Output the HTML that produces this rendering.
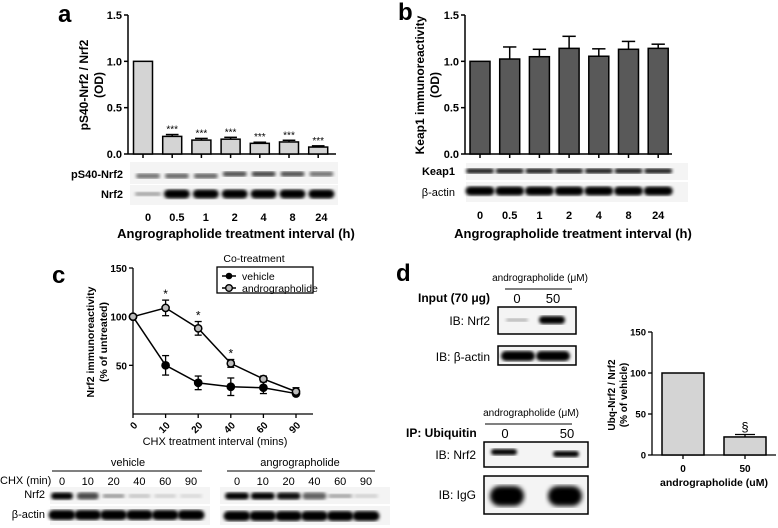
<!DOCTYPE html>
<html><head><meta charset="utf-8"><style>
html,body{margin:0;padding:0;background:#fff}
svg{display:block;font-family:"Liberation Sans",sans-serif}
</style></head><body>
<svg id="fig" width="778" height="528" viewBox="0 0 778 528" xmlns="http://www.w3.org/2000/svg" font-weight="bold">
<defs>
<filter id="blur1"><feGaussianBlur stdDeviation="1.6"/></filter>
<filter id="blur2"><feGaussianBlur stdDeviation="2.5"/></filter>
</defs>
<g id="panelA"></g>
<g id="panelB"></g>
<g id="panelC"></g>
<g id="panelD"></g>
</svg>
<script>
// Panel a data
const aCats = ["0","0.5","1","2","4","8","24"];
const aVals = [1.0,0.19,0.15,0.16,0.115,0.13,0.075];
const aErr = [0,0.02,0.018,0.02,0.012,0.018,0.013];
const aTicks = [0,0.5,1.0,1.5];
const aTickLabels = ["0.0","0.5","1.0","1.5"];
const aPs40 = [0.55,0.6,0.6,0.7,0.75,0.7,0.55];
const aNrf2 = [0.35,1,1,1,1,1,1];
// Panel b data
const bCats = ["0","0.5","1","2","4","8","24"];
const bVals = [1.0,1.025,1.05,1.14,1.055,1.13,1.14];
const bErr = [0,0.13,0.08,0.13,0.08,0.085,0.045];
const bTicks = [0,0.5,1.0,1.5];
const bTickLabels = ["0.0","0.5","1.0","1.5"];
// Panel c data
const cCats = ["0","10","20","40","60","90"];
const cVehicle = [100,50,32,28,27,21];
const cVehicleErr = [0,10,7,9,6,2];
const cAndro = [100,109,88,52,36,23];
const cAndroErr = [0,8,7,4,3,4];
const cStars = [false,true,true,true,false,false];
const cTicks = [50,100,150];
const cBlotVehicle = [1,0.7,0.4,0.2,0.15,0.12];
const cBlotAndro = [1,1,0.95,0.6,0.35,0.15];
// Panel d data
const dCats = ["0","50"];
const dVals = [100,22];
const dErr = [0,3];
const dTicks = [0,50,100,150];

const NS="http://www.w3.org/2000/svg";
function el(parent,tag,attrs,txt){const e=document.createElementNS(NS,tag);for(const k in attrs)e.setAttribute(k,attrs[k]);if(txt!==undefined)e.textContent=txt;parent.appendChild(e);return e;}

function barPanel(g,opt){
  const {x0,x1,yTop,yBot,vmax,cats,vals,err,ticks,tickLabels,fill,cx0,step,bw,fs}=opt;
  const y=v=>yBot-(v/vmax)*(yBot-yTop);
  const x=i=>cx0+i*step;
  const ax=el(g,'line',{x1:x0,y1:yTop,x2:x0,y2:yBot,stroke:'#000','stroke-width':1.5});
  
  
  const xa=el(g,'line',{x1:x0,y1:yBot,x2:x1,y2:yBot,stroke:'#000','stroke-width':1.5});
  
  
  ticks.forEach((t,i)=>{
    el(g,'line',{x1:x0-4,y1:y(t),x2:x0,y2:y(t),stroke:'#000','stroke-width':1.5});
    const tl=el(g,'text',{x:x0-6,y:y(t)+4,'text-anchor':'end','font-size':fs||11},tickLabels[i]);
    
    
  });
  cats.forEach((c,i)=>{
    el(g,'line',{x1:x(i),y1:yBot,x2:x(i),y2:yBot+4,stroke:'#000','stroke-width':1.5});
    const r=el(g,'rect',{x:x(i)-bw/2,y:y(vals[i]),width:bw,height:yBot-y(vals[i]),fill:fill,stroke:'#000','stroke-width':1.5});
    
    
    if(err[i]>0){
      el(g,'line',{x1:x(i),y1:y(vals[i]),x2:x(i),y2:y(vals[i]+err[i]),stroke:'#000','stroke-width':1.5});
      el(g,'line',{x1:x(i)-bw/3,y1:y(vals[i]+err[i]),x2:x(i)+bw/3,y2:y(vals[i]+err[i]),stroke:'#000','stroke-width':1.5});
    }
  });
  return {x,y};
}
function band(g,cx,cy,w,h,intensity,blurId){
  const b=el(g,'rect',{x:cx-w/2,y:cy-h/2,width:w,height:h,rx:h/2,fill:'#000','fill-opacity':intensity,filter:'url(#'+(blurId||'blur1')+')'});
  
  
}
function blotBg(g,x,y,w,h,name,stroke){
  const r=el(g,'rect',{x,y,width:w,height:h,fill:'#f4f4f4',stroke:stroke?'#000':'none','stroke-width':1.5});
  
  
}
function label(g,x,y,t,opts,name){
  const e=el(g,'text',Object.assign({x,y},opts||{}),t);
  
  
  return e;
}

// ---- Panel A
(function(){
  const g=document.getElementById('panelA');
  label(g,58,22,'a',{'font-size':24},'panel-label-a');
  const s=barPanel(g,{x0:128,x1:336,yTop:15,yBot:154,vmax:1.5,cats:aCats,vals:aVals,err:aErr,ticks:aTicks,tickLabels:aTickLabels,fill:'#d4d4d4',cx0:143,step:29.2,bw:19});
  aVals.forEach((v,i)=>{if(i>0)label(g,s.x(i),s.y(v+aErr[i])-2,'***',{'text-anchor':'middle','font-size':10,'font-weight':'normal'},'significance-stars');});
  const yt=label(g,0,0,'',{'text-anchor':'middle','font-size':12,transform:'translate(88,85) rotate(-90)'},'y-axis-title');
  el(yt,'tspan',{x:0,dy:0},'pS40-Nrf2 / Nrf2');el(yt,'tspan',{x:0,dy:15},'(OD)');
  blotBg(g,130,162,208,22,'blot-ps40-nrf2');
  blotBg(g,130,185,208,20,'blot-nrf2');
  aCats.forEach((c,i)=>{
    const cx=148+i*28.9;
    band(g,cx,176-(i>2?2:0),24,5,aPs40[i]);
    band(g,cx,194,26,aNrf2[i]>0.5?9:4,aNrf2[i]);
    label(g,cx,221,c,{'text-anchor':'middle','font-size':11},'x-tick-label');
  });
  label(g,123,178,'pS40-Nrf2',{'text-anchor':'end','font-size':11},'blot-label-ps40');
  label(g,123,198,'Nrf2',{'text-anchor':'end','font-size':11},'blot-label-nrf2');
  label(g,236,238,'Angrographolide treatment interval (h)',{'text-anchor':'middle','font-size':13},'x-axis-title');
})();

// ---- Panel B
(function(){
  const g=document.getElementById('panelB');
  label(g,398,20,'b',{'font-size':24},'panel-label-b');
  barPanel(g,{x0:465,x1:672,yTop:15,yBot:154,vmax:1.5,cats:bCats,vals:bVals,err:bErr,ticks:bTicks,tickLabels:bTickLabels,fill:'#595959',cx0:480,step:29.7,bw:20});
  const yt=label(g,0,0,'',{'text-anchor':'middle','font-size':12,transform:'translate(424,85) rotate(-90)'},'y-axis-title');
  el(yt,'tspan',{x:0,dy:0},'Keap1 immunoreactivity');el(yt,'tspan',{x:0,dy:15},'(OD)');
  blotBg(g,466,163,222,17,'blot-keap1');
  blotBg(g,466,182,222,20,'blot-beta-actin');
  bCats.forEach((c,i)=>{
    const cx=480+i*29.7;
    band(g,cx,171,28,5,0.9);
    band(g,cx,191,29,9,1);
    label(g,cx,219,c,{'text-anchor':'middle','font-size':11},'x-tick-label');
  });
  label(g,455,175,'Keap1',{'text-anchor':'end','font-size':11},'blot-label-keap1');
  label(g,455,196,'β-actin',{'text-anchor':'end','font-size':11,'font-weight':'normal'},'blot-label-beta-actin');
  label(g,573,238,'Angrographolide treatment interval (h)',{'text-anchor':'middle','font-size':13},'x-axis-title');
})();

// ---- Panel C
(function(){
  const g=document.getElementById('panelC');
  label(g,52,283,'c',{'font-size':24},'panel-label-c');
  const x0=133,yBot=414,yTop=268;
  const y=v=>yBot-v/150*(yBot-yTop);
  const x=i=>133+i*32.6;
  el(g,'line',{x1:x0,y1:yTop,x2:x0,y2:yBot,stroke:'#000','stroke-width':1.3});
  el(g,'line',{x1:x0,y1:yBot,x2:313,y2:yBot,stroke:'#000','stroke-width':1.3});
  cTicks.forEach(t=>{el(g,'line',{x1:x0-4,y1:y(t),x2:x0,y2:y(t),stroke:'#000','stroke-width':1.3});label(g,x0-6,y(t)+4,String(t),{'text-anchor':'end','font-size':10},'y-tick-label');});
  cCats.forEach((c,i)=>{el(g,'line',{x1:x(i),y1:yBot,x2:x(i),y2:yBot+4,stroke:'#000','stroke-width':1.3});
    label(g,0,0,c,{'text-anchor':'end','font-size':10,transform:`translate(${x(i)+5},${yBot+12}) rotate(-45)`},'x-tick-label');});
  function series(vals,errs,open,name){
    const pl=el(g,'polyline',{points:vals.map((v,i)=>x(i)+','+y(v)).join(' '),fill:'none',stroke:'#000','stroke-width':1.5});
    
    
    vals.forEach((v,i)=>{
      if(errs[i]>0){
        el(g,'line',{x1:x(i),y1:y(v-errs[i]),x2:x(i),y2:y(v+errs[i]),stroke:'#000','stroke-width':1.3});
        [v-errs[i],v+errs[i]].forEach(e=>el(g,'line',{x1:x(i)-3.5,y1:y(e),x2:x(i)+3.5,y2:y(e),stroke:'#000','stroke-width':1.3}));
      }
      const p=el(g,'circle',{cx:x(i),cy:y(v),r:3.6,fill:open?'#bbb':'#000',stroke:'#000','stroke-width':1.5});
      
      
    });
  }
  series(cVehicle,cVehicleErr,false,'vehicle');
  series(cAndro,cAndroErr,true,'andrographolide');
  cStars.forEach((s,i)=>{if(s)label(g,x(i),y(cAndro[i]+cAndroErr[i])-2,'*',{'text-anchor':'middle','font-size':12,'font-weight':'normal'},'significance-star');});
  const yt=label(g,0,0,'',{'text-anchor':'middle','font-size':10.5,transform:'translate(94,342) rotate(-90)'},'y-axis-title');
  el(yt,'tspan',{x:0,dy:0},'Nrf2  immunoreactivity');el(yt,'tspan',{x:0,dy:13},'(% of untreated)');
  label(g,215,445,'CHX treatment interval (mins)',{'text-anchor':'middle','font-size':11,'font-weight':'normal'},'x-axis-title');
  // legend
  label(g,254,262,'Co-treatment',{'text-anchor':'middle','font-size':10.5,'font-weight':'normal'},'legend-title');
  const lg=el(g,'rect',{x:217,y:267,width:96,height:26,fill:'#fff',stroke:'#000','stroke-width':1.3});
  
  
  el(g,'line',{x1:222,y1:276,x2:236,y2:276,stroke:'#000','stroke-width':1.5});
  el(g,'circle',{cx:229,cy:276,r:3.3,fill:'#000'});
  label(g,242,280,'vehicle',{'font-size':10.5,'font-weight':'normal'},'legend-entry-vehicle');
  el(g,'line',{x1:222,y1:288,x2:236,y2:288,stroke:'#000','stroke-width':1.5});
  el(g,'circle',{cx:229,cy:288,r:3.3,fill:'#bbb',stroke:'#000','stroke-width':1.4});
  label(g,242,292,'andrographolide',{'font-size':10.5,'font-weight':'normal'},'legend-entry-andrographolide');
  // blots
  label(g,128,466,'vehicle',{'text-anchor':'middle','font-size':11,'font-weight':'normal'},'blot-group-vehicle');
  el(g,'line',{x1:52,y1:471,x2:202,y2:471,stroke:'#000','stroke-width':1});
  label(g,300,466,'angrographolide',{'text-anchor':'middle','font-size':11,'font-weight':'normal'},'blot-group-andrographolide');
  el(g,'line',{x1:227,y1:471,x2:375,y2:471,stroke:'#000','stroke-width':1});
  label(g,0,484,'CHX (min)',{'font-size':11,'font-weight':'normal'},'blot-label-chx');
  label(g,45,498,'Nrf2',{'text-anchor':'end','font-size':11,'font-weight':'normal'},'blot-label-nrf2');
  label(g,45,518,'β-actin',{'text-anchor':'end','font-size':11,'font-weight':'normal'},'blot-label-beta-actin');
  blotBg(g,50,487,160,17,'blot-vehicle-nrf2');
  blotBg(g,50,506,160,19,'blot-vehicle-actin');
  blotBg(g,220,487,170,17,'blot-andro-nrf2');
  blotBg(g,220,506,170,19,'blot-andro-actin');
  cCats.forEach((c,i)=>{
    const vx=62+i*25.8, ax=237+i*25.8;
    label(g,vx,485,c,{'text-anchor':'middle','font-size':11,'font-weight':'normal'},'lane-label');
    label(g,ax,485,c,{'text-anchor':'middle','font-size':11,'font-weight':'normal'},'lane-label');
    band(g,vx,496,22,cBlotVehicle[i]>0.5?7:4,cBlotVehicle[i]);
    band(g,ax,496,24,cBlotAndro[i]>0.5?7:4,cBlotAndro[i]);
    band(g,vx,515,27,10,1);
    band(g,ax,516,27,10,1);
  });
})();

// ---- Panel D
(function(){
  const g=document.getElementById('panelD');
  label(g,396,281,'d',{'font-size':24},'panel-label-d');
  label(g,540,281,'andrographolide (μM)',{'text-anchor':'middle','font-size':10,'font-weight':'normal'},'treatment-label');
  el(g,'line',{x1:505,y1:289,x2:572,y2:289,stroke:'#000','stroke-width':1});
  label(g,418,302,'Input (70 μg)',{'font-size':12},'input-label');
  label(g,517,303,'0',{'text-anchor':'middle','font-size':13,'font-weight':'normal'},'lane-label');
  label(g,553,303,'50',{'text-anchor':'middle','font-size':13,'font-weight':'normal'},'lane-label');
  blotBg(g,498,307,78,27,'blot-input-nrf2',true);
  band(g,517,320,22,3,0.3);
  band(g,552,320,26,8,1);
  label(g,490,325,'IB: Nrf2',{'text-anchor':'end','font-size':12,'font-weight':'normal'},'blot-label');
  blotBg(g,498,346,78,19,'blot-input-actin',true);
  band(g,518,356,34,10,1);band(g,553,356,34,10,1);
  label(g,490,361,'IB: β-actin',{'text-anchor':'end','font-size':12,'font-weight':'normal'},'blot-label');

  label(g,531,416,'andrographolide (μM)',{'text-anchor':'middle','font-size':10,'font-weight':'normal'},'treatment-label');
  el(g,'line',{x1:485,y1:424,x2:572,y2:424,stroke:'#000','stroke-width':1});
  label(g,406,437,'IP: Ubiquitin',{'font-size':12},'ip-label');
  label(g,505,438,'0',{'text-anchor':'middle','font-size':13,'font-weight':'normal'},'lane-label');
  label(g,567,438,'50',{'text-anchor':'middle','font-size':13,'font-weight':'normal'},'lane-label');
  blotBg(g,484,442,104,25,'blot-ip-nrf2',true);
  band(g,504,452,26,6,1);band(g,566,454,26,6,1);
  label(g,476,459,'IB: Nrf2',{'text-anchor':'end','font-size':12,'font-weight':'normal'},'blot-label');
  blotBg(g,484,476,104,38,'blot-ip-igg',true);
  band(g,507,496,34,20,1,'blur2');band(g,565,496,34,20,1,'blur2');
  label(g,476,499,'IB: IgG',{'text-anchor':'end','font-size':12,'font-weight':'normal'},'blot-label');

  const yTop=332,yBot=455,x0=652;
  const y=v=>yBot-v/150*(yBot-yTop);
  const x=i=>683+i*62;
  el(g,'line',{x1:x0,y1:yTop,x2:x0,y2:yBot,stroke:'#000','stroke-width':1.3});
  el(g,'line',{x1:x0,y1:yBot,x2:776,y2:yBot,stroke:'#000','stroke-width':1.3});
  dTicks.forEach(t=>{el(g,'line',{x1:x0-4,y1:y(t),x2:x0,y2:y(t),stroke:'#000','stroke-width':1.3});label(g,x0-6,y(t)+3.5,String(t),{'text-anchor':'end','font-size':9.5},'y-tick-label');});
  dCats.forEach((c,i)=>{
    el(g,'line',{x1:x(i),y1:yBot,x2:x(i),y2:yBot+4,stroke:'#000','stroke-width':1.3});
    const r=el(g,'rect',{x:x(i)-21,y:y(dVals[i]),width:42,height:yBot-y(dVals[i]),fill:'#d4d4d4',stroke:'#000','stroke-width':1.5});
    
    
    if(dErr[i]>0){
      el(g,'line',{x1:x(i),y1:y(dVals[i]),x2:x(i),y2:y(dVals[i]+dErr[i]),stroke:'#000','stroke-width':1.3});
      el(g,'line',{x1:x(i)-10,y1:y(dVals[i]+dErr[i]),x2:x(i)+10,y2:y(dVals[i]+dErr[i]),stroke:'#000','stroke-width':1.3});
      label(g,x(i),y(dVals[i]+dErr[i])-3,'§',{'text-anchor':'middle','font-size':13,'font-weight':'normal'},'significance-mark');
    }
    label(g,x(i),472,c,{'text-anchor':'middle','font-size':10},'x-tick-label');
  });
  label(g,714,486,'andrographolide (uM)',{'text-anchor':'middle','font-size':10.5},'x-axis-title');
  const yt=label(g,0,0,'',{'text-anchor':'middle','font-size':10,transform:'translate(615,395) rotate(-90)'},'y-axis-title');
  el(yt,'tspan',{x:0,dy:0},'Ubq-Nrf2 / Nrf2');el(yt,'tspan',{x:0,dy:12},'(% of vehicle)');
})();
</script>
</body></html>
